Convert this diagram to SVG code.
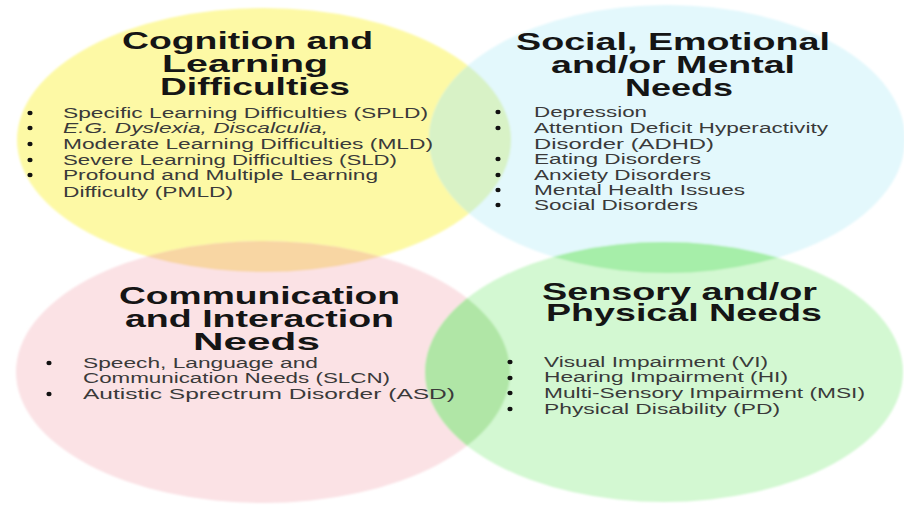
<svg xmlns="http://www.w3.org/2000/svg" width="904" height="506" viewBox="0 0 904 506">
<style>
.title{font-family:"Liberation Sans",Arial,sans-serif;font-weight:bold;font-size:24px;fill:#151515}
.item{font-family:"Liberation Sans",Arial,sans-serif;font-size:14px;fill:#3a3a3a}
.it{font-style:italic}
.dot{fill:#111}
</style>
<defs>
<filter id="soft" x="-5%" y="-5%" width="110%" height="110%"><feGaussianBlur stdDeviation="1.3"/></filter>
<clipPath id="cY"><ellipse cx="264" cy="140" rx="247" ry="132"/></clipPath>
<clipPath id="cG"><ellipse cx="664" cy="372" rx="239" ry="130"/></clipPath>
</defs>
<rect width="904" height="506" fill="#ffffff"/>
<g id="circles" filter="url(#soft)">
<ellipse id="shape-cognition" cx="264" cy="140" rx="247" ry="132" fill="#fdf9a5"/>
<ellipse id="shape-social" cx="667" cy="139" rx="238" ry="134" fill="#e3f8fc"/>
<ellipse id="shape-communication" cx="263" cy="372" rx="247" ry="131" fill="#fbe2e5"/>
<ellipse id="shape-sensory" cx="664" cy="372" rx="239" ry="130" fill="#d3f8d2"/>
<g id="overlaps">
<ellipse cx="667" cy="139" rx="238" ry="134" fill="#d8f2c6" clip-path="url(#cY)"/>
<ellipse cx="263" cy="372" rx="247" ry="131" fill="#f8d6a3" clip-path="url(#cY)"/>
<ellipse cx="667" cy="139" rx="238" ry="134" fill="#a6eea9" clip-path="url(#cG)"/>
<ellipse cx="263" cy="372" rx="247" ry="131" fill="#b0e6a6" clip-path="url(#cG)"/>
</g>
</g>
<g id="node-cognition">
<text class="title" x="122" y="49" textLength="251" lengthAdjust="spacingAndGlyphs">Cognition and</text>
<text class="title" x="162" y="72" textLength="166" lengthAdjust="spacingAndGlyphs">Learning</text>
<text class="title" x="160" y="95" textLength="190" lengthAdjust="spacingAndGlyphs">Difficulties</text>
<ellipse class="dot" cx="30" cy="113" rx="2.6" ry="2.2"/>
<ellipse class="dot" cx="30" cy="128" rx="2.6" ry="2.2"/>
<ellipse class="dot" cx="30" cy="144" rx="2.6" ry="2.2"/>
<ellipse class="dot" cx="30" cy="160" rx="2.6" ry="2.2"/>
<ellipse class="dot" cx="30" cy="175" rx="2.6" ry="2.2"/>
<text class="item" x="63" y="118" textLength="365" lengthAdjust="spacingAndGlyphs">Specific Learning Difficulties (SPLD)</text>
<text class="item it" x="63" y="133" textLength="265" lengthAdjust="spacingAndGlyphs">E.G. Dyslexia, Discalculia,</text>
<text class="item" x="63" y="149" textLength="370" lengthAdjust="spacingAndGlyphs">Moderate Learning Difficulties (MLD)</text>
<text class="item" x="63" y="165" textLength="334" lengthAdjust="spacingAndGlyphs">Severe Learning Difficulties (SLD)</text>
<text class="item" x="63" y="180" textLength="315" lengthAdjust="spacingAndGlyphs">Profound and Multiple Learning</text>
<text class="item" x="63" y="197" textLength="170" lengthAdjust="spacingAndGlyphs">Difficulty (PMLD)</text>
</g>
<g id="node-social">
<text class="title" x="516" y="50" textLength="314" lengthAdjust="spacingAndGlyphs">Social, Emotional</text>
<text class="title" x="551" y="73" textLength="244" lengthAdjust="spacingAndGlyphs">and/or Mental</text>
<text class="title" x="625" y="96" textLength="108" lengthAdjust="spacingAndGlyphs">Needs</text>
<ellipse class="dot" cx="498" cy="112" rx="2.6" ry="2.2"/>
<ellipse class="dot" cx="498" cy="128" rx="2.6" ry="2.2"/>
<ellipse class="dot" cx="498" cy="159" rx="2.6" ry="2.2"/>
<ellipse class="dot" cx="498" cy="175" rx="2.6" ry="2.2"/>
<ellipse class="dot" cx="498" cy="190" rx="2.6" ry="2.2"/>
<ellipse class="dot" cx="498" cy="205" rx="2.6" ry="2.2"/>
<text class="item" x="534" y="117" textLength="113" lengthAdjust="spacingAndGlyphs">Depression</text>
<text class="item" x="534" y="133" textLength="294" lengthAdjust="spacingAndGlyphs">Attention Deficit Hyperactivity</text>
<text class="item" x="534" y="149" textLength="180" lengthAdjust="spacingAndGlyphs">Disorder (ADHD)</text>
<text class="item" x="534" y="164" textLength="167" lengthAdjust="spacingAndGlyphs">Eating Disorders</text>
<text class="item" x="534" y="180" textLength="177" lengthAdjust="spacingAndGlyphs">Anxiety Disorders</text>
<text class="item" x="534" y="195" textLength="211" lengthAdjust="spacingAndGlyphs">Mental Health Issues</text>
<text class="item" x="534" y="210" textLength="164" lengthAdjust="spacingAndGlyphs">Social Disorders</text>
</g>
<g id="node-communication">
<text class="title" x="119" y="304" textLength="281" lengthAdjust="spacingAndGlyphs">Communication</text>
<text class="title" x="125" y="327" textLength="269" lengthAdjust="spacingAndGlyphs">and Interaction</text>
<text class="title" x="193" y="350" textLength="127" lengthAdjust="spacingAndGlyphs">Needs</text>
<ellipse class="dot" cx="49" cy="363" rx="2.6" ry="2.2"/>
<ellipse class="dot" cx="49" cy="394" rx="2.6" ry="2.2"/>
<text class="item" x="83" y="368" textLength="235" lengthAdjust="spacingAndGlyphs">Speech, Language and</text>
<text class="item" x="83" y="383" textLength="307" lengthAdjust="spacingAndGlyphs">Communication Needs (SLCN)</text>
<text class="item" x="83" y="399" textLength="372" lengthAdjust="spacingAndGlyphs">Autistic Sprectrum Disorder (ASD)</text>
</g>
<g id="node-sensory">
<text class="title" x="542" y="300" textLength="275" lengthAdjust="spacingAndGlyphs">Sensory and/or</text>
<text class="title" x="546" y="321" textLength="276" lengthAdjust="spacingAndGlyphs">Physical Needs</text>
<ellipse class="dot" cx="510" cy="362" rx="2.6" ry="2.2"/>
<ellipse class="dot" cx="510" cy="378" rx="2.6" ry="2.2"/>
<ellipse class="dot" cx="510" cy="393" rx="2.6" ry="2.2"/>
<ellipse class="dot" cx="510" cy="409" rx="2.6" ry="2.2"/>
<text class="item" x="544" y="367" textLength="224" lengthAdjust="spacingAndGlyphs">Visual Impairment (VI)</text>
<text class="item" x="544" y="382" textLength="244" lengthAdjust="spacingAndGlyphs">Hearing Impairment (HI)</text>
<text class="item" x="544" y="398" textLength="321" lengthAdjust="spacingAndGlyphs">Multi-Sensory Impairment (MSI)</text>
<text class="item" x="544" y="414" textLength="236" lengthAdjust="spacingAndGlyphs">Physical Disability (PD)</text>
</g>
</svg>
